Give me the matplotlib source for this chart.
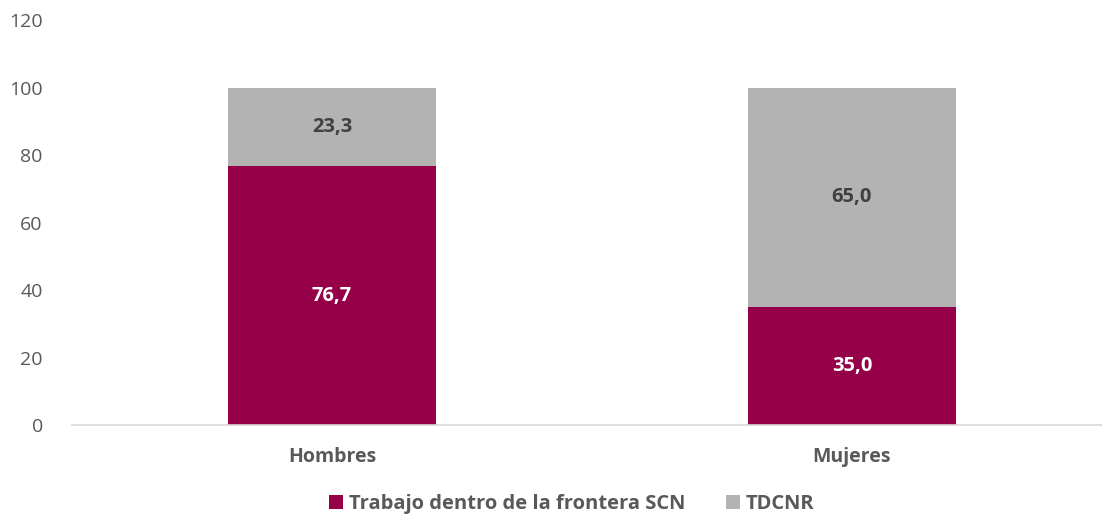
import matplotlib.pyplot as plt
import numpy as np

plt.rcParams["font.family"] = ["Open Sans", "DejaVu Sans"]

categories = ["Hombres", "Mujeres"]
trabajo_scn = [76.7, 35.0]
tdcnr = [23.3, 65.0]
series_names = ["Trabajo dentro de la frontera SCN", "TDCNR"]
y_ticks = [0, 20, 40, 60, 80, 100, 120]

MAROON = "#960048"
GRAY = "#B3B3B3"
TEXT = "#595959"


def fmt(v):
    return f"{v:.1f}".replace(".", ",")


fig = plt.figure(figsize=(11.02, 5.16), dpi=100)
ax = fig.add_axes([0.0653, 0.1764, 0.9437, 0.7846])

x = np.arange(len(categories))
b1 = ax.bar(x, trabajo_scn, width=0.4, color=MAROON, label=series_names[0])
b2 = ax.bar(x, tdcnr, width=0.4, bottom=trabajo_scn, color=GRAY, label=series_names[1])

for rect, v in zip(b1, trabajo_scn):
    ax.text(rect.get_x() + rect.get_width() / 2, rect.get_y() + rect.get_height() / 2,
            fmt(v), ha="center", va="center", color="white", fontsize=14.5, fontweight="bold")
for rect, v in zip(b2, tdcnr):
    ax.text(rect.get_x() + rect.get_width() / 2, rect.get_y() + rect.get_height() / 2,
            fmt(v), ha="center", va="center", color="#404040", fontsize=14.5, fontweight="bold")

ax.set_xlim(-0.5, 1.5)
ax.set_ylim(0, 120)
ax.set_yticks(y_ticks)
ax.set_yticklabels([str(t) for t in y_ticks], color=TEXT, fontsize=14)
ax.set_xticks(x)
ax.set_xticklabels(categories, color=TEXT, fontsize=14, fontweight="bold")
ax.tick_params(axis="both", length=0)
ax.tick_params(axis="y", pad=21)
ax.tick_params(axis="x", pad=16)

for side in ["top", "right", "left"]:
    ax.spines[side].set_visible(False)
ax.spines["bottom"].set_color("#D9D9D9")
ax.spines["bottom"].set_linewidth(1.2)

leg = fig.legend(handles=[b1, b2], labels=series_names, loc="center",
                 bbox_to_anchor=(0.519, 0.023), ncol=2, frameon=False,
                 handlelength=0.7, handleheight=0.7, handletextpad=0.3,
                 columnspacing=2.0, prop={"size": 14.5, "weight": "bold"})
for t in leg.get_texts():
    t.set_color(TEXT)

fig.savefig("out.png", dpi=100)
